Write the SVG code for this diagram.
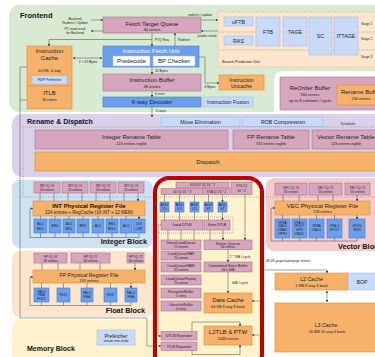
<svg xmlns="http://www.w3.org/2000/svg" width="375" height="357" viewBox="0 0 375 357">
<defs>
<style>
.t{font-family:"Liberation Sans",Arial,sans-serif;fill:#222;text-anchor:middle}
.h{font-size:6px}
.m{font-size:5.3px}
.s{font-size:3.8px}
.xs{font-size:3.3px}
.b{font-weight:bold;fill:#111}
.l{text-anchor:start}
.e{text-anchor:end}
.w{fill:#fff}
.pu{fill:#d5a6bd;stroke:#a87095;stroke-width:0.6}
.or{fill:#f6b26b;stroke:#e08a30;stroke-width:0.6}
.bl{fill:#6d9eeb;stroke:#3c78d8;stroke-width:0.6}
.lb{fill:#c9daf8;stroke:#9fbbe8;stroke-width:0.6}
.wh{fill:#fff;stroke:#9fbbe8;stroke-width:0.5}
.c{fill:none;stroke:#444;stroke-width:0.5}
.ca{fill:none;stroke:#444;stroke-width:0.5;marker-end:url(#a)}
.cb{fill:none;stroke:#444;stroke-width:0.5;marker-end:url(#a);marker-start:url(#a)}
.dt{fill:none;stroke:#777;stroke-width:0.5;stroke-dasharray:1 1}
</style>
<marker id="a" viewBox="0 0 6 6" refX="5.5" refY="3" markerWidth="2.6" markerHeight="2.6" orient="auto-start-reverse" markerUnits="userSpaceOnUse"><path d="M0,0L6,3L0,6z" fill="#333"/></marker>
</defs>

<g id="regions">
<rect x="9" y="5" width="380" height="107" rx="10" fill="#d9ead3"/>
<rect x="274" y="71" width="110" height="46" rx="8" fill="#fff"/>
<rect x="12" y="114" width="375" height="63" rx="10" fill="#d9d2e9"/>
<rect x="12" y="180" width="141" height="68" rx="8" fill="#cfe2f3"/>
<rect x="12" y="251" width="141" height="66" rx="8" fill="#fce5cd"/>
<rect x="12" y="320" width="150" height="45" rx="8" fill="#fff2cc"/>
<rect x="266" y="178" width="115" height="73" rx="8" fill="#f4cccc"/>
<rect x="155" y="178" width="107" height="190" rx="14" fill="#fff2cc"/>
<rect x="218" y="12" width="170" height="55" rx="2" fill="#fce5cd" stroke="#f6b26b" stroke-width="0.6" stroke-dasharray="2 1"/>
<path d="M219 32H375M219 50H375" stroke="#777" stroke-width="0.5" stroke-dasharray="1 1" fill="none"/>
<text class="t b l" style="font-size:7.5px" x="20" y="17.5">Frontend</text>
<text class="t b l" style="font-size:7px" x="27" y="123.5">Rename &amp; Dispatch</text>
<text class="t b e" style="font-size:7.3px" x="147" y="243.5">Integer Block</text>
<text class="t b e" style="font-size:7.3px" x="145" y="313">Float Block</text>
<text class="t b l" style="font-size:7px" x="27" y="350.5">Memory Block</text>
<text class="t b l" style="font-size:7.3px" x="338" y="249">Vector Block</text>
<text class="t s l" x="222" y="63">Branch Prediction Unit</text>
<text class="t xs" x="348" y="124.5">Scheduler</text>
<text class="t xs l" x="361" y="25">Stage 1</text>
<text class="t xs l" x="361" y="40">Stage 2</text>
<text class="t xs l" x="361" y="58">Stage 3</text>
<text class="t xs l" x="266" y="262">48 4K-page/superpage entries</text>
</g>

<g id="ftq"><rect class="pu" x="103" y="17" width="98" height="16"/><text class="t h" x="152" y="25.5">Fetch Target Queue</text><text class="t s" x="152" y="31">64 entries</text></g>
<g id="icache"><rect class="or" x="27" y="46" width="45" height="40"/><text class="t h" x="49.5" y="53">Instruction</text><text class="t h" x="49.5" y="59.5">Cache</text><text class="t s" x="49.5" y="72">64 KB, 4 way</text><rect class="lb" x="32" y="75.5" width="35" height="8.5"/><text class="t xs" x="49.5" y="81">FDIP Prefetcher</text></g>
<g id="itlb"><rect class="or" x="27" y="86" width="45" height="23"/><text class="t h" x="49.5" y="95">ITLB</text><text class="t xs" x="49.5" y="101">48 entries</text></g>
<g id="ifu"><rect class="bl" x="103" y="46" width="96" height="21"/><text class="t h w" x="151" y="53">Instruction Fetch Unit</text><rect class="wh" x="113" y="56" width="37" height="10"/><text class="t h" x="131.5" y="63">Predecode</text><rect class="wh" x="153" y="56" width="42" height="10"/><text class="t h" x="174" y="63">BP Checker</text></g>
<g id="ibuf"><rect class="pu" x="103" y="74" width="98" height="17"/><text class="t h" x="152" y="82">Instruction Buffer</text><text class="t s" x="152" y="88">48 entries</text></g>
<g id="decoder"><rect class="bl" x="103" y="97" width="98" height="10"/><text class="t h" x="152" y="104.2">6-way Decoder</text></g>
<g id="fusion"><rect class="lb" x="203" y="97" width="50" height="10"/><text class="t m" x="228" y="104">Instruction Fusion</text></g>
<g id="uncache"><rect class="or" x="219" y="75" width="45" height="15"/><text class="t m" x="241.5" y="81.5">Instruction</text><text class="t m" x="241.5" y="88">Uncache</text></g>
<g id="uftb"><rect class="lb" x="224" y="17" width="29" height="9"/><text class="t m" x="238.5" y="23.5">uFTB</text></g>
<g id="ras"><rect class="lb" x="224" y="36" width="29" height="9"/><text class="t m" x="238.5" y="42.5">RAS</text></g>
<g id="ftb"><rect class="lb" x="256" y="17" width="24" height="29"/><text class="t m" x="268" y="33.5">FTB</text></g>
<g id="tage"><rect class="lb" x="283" y="17" width="24" height="29"/><text class="t m" x="295" y="33.5">TAGE</text></g>
<g id="sc"><rect class="lb" x="309" y="17" width="23" height="38"/><text class="t m" x="320.5" y="38">SC</text></g>
<g id="ittage"><rect class="lb" x="334" y="17" width="24" height="38"/><text class="t m" x="346" y="38">ITTAGE</text></g>
<g id="rob"><rect class="pu" x="280" y="77" width="100" height="33"/><text class="t h" x="310" y="89.5">ReOrder Buffer</text><text class="t s" x="310" y="95.5">160 entries</text><text class="t" style="font-size:4.2px" x="310" y="101.5">up to 8 commits / cycle</text></g>
<g id="renamebuf"><rect class="or" x="337" y="85" width="45" height="20"/><text class="t h" x="361" y="93.5">Rename Buffer</text><text class="t s" x="361" y="99.5">256 entries</text></g>

<g id="moveelim"><rect class="lb" x="161" y="117" width="79" height="9.5"/><text class="t m" x="200.5" y="124">Move Elimination</text></g>
<g id="robcomp"><rect class="lb" x="243" y="117" width="80" height="9.5"/><text class="t m" x="283" y="124">ROB Compression</text></g>
<g id="intrename"><rect class="pu" x="35" y="130" width="193" height="19"/><text class="t h" x="131.5" y="139">Integer Rename Table</text><text class="t s" x="131.5" y="145">224 entries regfile</text></g>
<g id="fprename"><rect class="pu" x="233" y="130" width="76" height="19"/><text class="t h" x="271" y="139">FP Rename Table</text><text class="t s" x="271" y="145">192 entries regfile</text></g>
<g id="vecrename"><rect class="pu" x="312" y="130" width="70" height="19"/><text class="t h" x="346" y="139">Vector Rename Table</text><text class="t s" x="346" y="145">128 entries regfile</text></g>
<g id="dispatch"><rect class="or" x="35" y="152" width="347" height="19"/><text class="t h" x="208" y="164">Dispatch</text></g>

<g id="intiq0"><rect class="pu" x="34" y="182" width="26" height="11"/><text class="t xs" x="47" y="187">INT IQ #0</text><text class="t xs" x="47" y="191.3">24 entries</text></g>
<g id="intiq1"><rect class="pu" x="62" y="182" width="26" height="11"/><text class="t xs" x="75" y="187">INT IQ #1</text><text class="t xs" x="75" y="191.3">24 entries</text></g>
<g id="intiq2"><rect class="pu" x="90" y="182" width="26" height="11"/><text class="t xs" x="103" y="187">INT IQ #2</text><text class="t xs" x="103" y="191.3">24 entries</text></g>
<g id="intiq3"><rect class="pu" x="118" y="182" width="26" height="11"/><text class="t xs" x="131" y="187">INT IQ #3</text><text class="t xs" x="131" y="191.3">24 entries</text></g>
<g id="intprf"><rect class="or" x="33" y="201" width="112" height="15"/><text class="t h b" x="89" y="207.5">INT Physical Register File</text><text class="t" style="font-size:4.5px" x="89" y="213.5">224 entries + RegCache (16 INT + 12 MEM)</text></g>
<g id="intfu" class="t xs">
<rect class="bl" x="34" y="219" width="13" height="14"/><text x="40.5" y="225">ALU</text><text x="40.5" y="229.5">MUL</text>
<rect class="bl" x="49" y="219" width="12" height="14"/><text x="55" y="227.3">BRU</text>
<rect class="bl" x="63" y="219" width="12" height="14"/><text x="69" y="225">ALU</text><text x="69" y="229.5">MUL</text>
<rect class="bl" x="77" y="219" width="12" height="14"/><text x="83" y="227.3">BRU</text>
<rect class="bl" x="92" y="219" width="12" height="14"/><text x="98" y="227.3">ALU</text>
<rect class="bl" x="106" y="219" width="12" height="14"/><text x="112" y="225">BRU</text><text x="112" y="229.5">MISC</text>
<rect class="bl" x="120" y="219" width="12" height="14"/><text x="126" y="227.3">ALU</text>
<rect class="bl" x="133" y="219" width="12" height="14"/><text x="139" y="225">DIV</text><text x="139" y="229.5">CSR</text>
</g>

<g id="fpiq0"><rect class="pu" x="34" y="253" width="33" height="10"/><text class="t xs" x="50.5" y="257.5">FP IQ #0</text><text class="t xs" x="50.5" y="261.5">18 entries</text></g>
<g id="fpiq1"><rect class="pu" x="71" y="253" width="39" height="10"/><text class="t xs" x="90.5" y="257.5">FP IQ #1</text><text class="t xs" x="90.5" y="261.5">18 entries</text></g>
<g id="fpiq2"><rect class="pu" x="127" y="253" width="17" height="10"/><text class="t xs" x="135.5" y="257.5">FP IQ #2</text><text class="t xs" x="135.5" y="261.5">18 entries</text></g>
<g id="fpprf"><rect class="or" x="33" y="270" width="112" height="13"/><text class="t m" x="89" y="276.5">FP Physical Register File</text><text class="t s" x="89" y="281.5">192 entries</text></g>
<g id="fpfu" class="t xs">
<rect class="bl" x="34" y="288" width="15" height="14"/><text x="41.5" y="292.5">FALU</text><text x="41.5" y="296">FMA</text><text x="41.5" y="299.5">FCVT</text>
<rect class="bl" x="57" y="288" width="13" height="14"/><text x="63.5" y="296.2">FDIV</text>
<rect class="bl" x="81" y="288" width="12" height="14"/><text x="87" y="294">FALU</text><text x="87" y="298">FMA</text>
<rect class="bl" x="104" y="288" width="13" height="14"/><text x="110.5" y="296.2">FDIV</text>
<rect class="bl" x="125" y="288" width="12" height="14"/><text x="131" y="294">FALU</text><text x="131" y="298">FMA</text>
</g>

<g id="prefetcher"><rect class="lb" x="97" y="330" width="38" height="15"/><text class="t" style="font-size:5px" x="116" y="337.5">Prefetcher</text><text class="t" style="font-size:3.2px" x="116" y="342">stream sms stride</text></g>

<g id="veciq0"><rect class="pu" x="275" y="183" width="32" height="12"/><text class="t xs" x="291" y="188.5">VEC IQ #0</text><text class="t xs" x="291" y="192.7">16 entries</text></g>
<g id="veciq1"><rect class="pu" x="309" y="183" width="33" height="12"/><text class="t xs" x="325.5" y="188.5">VEC IQ #1</text><text class="t xs" x="325.5" y="192.7">16 entries</text></g>
<g id="veciq2"><rect class="pu" x="345" y="183" width="25" height="12"/><text class="t xs" x="357.5" y="188.5">VEC IQ #2</text><text class="t xs" x="357.5" y="192.7">16 entries</text></g>
<g id="vecprf"><rect class="or" x="275" y="201" width="95" height="14"/><text class="t h" x="322.5" y="207.5">VEC Physical Register File</text><text class="t s" x="322.5" y="213">128 entries</text></g>
<g id="vecfu" class="t" style="font-size:3.1px">
<rect class="bl" x="275" y="219" width="15" height="19"/><text x="282.5" y="223.5">VFMA</text><text x="282.5" y="227.3">VIALU</text><text x="282.5" y="231.1">VIMAC</text><text x="282.5" y="234.9">VPPU</text>
<rect class="bl" x="292" y="219" width="15" height="19"/><text x="299.5" y="223.5">VFALU</text><text x="299.5" y="227.3">VFCVT</text><text x="299.5" y="231.1">VIPU</text><text x="299.5" y="234.9">VMISC</text>
<rect class="bl" x="309" y="219" width="15" height="19"/><text x="316.5" y="226.5">VFMA</text><text x="316.5" y="230.5">VIALU</text>
<rect class="bl" x="327" y="219" width="15" height="19"/><text x="334.5" y="226.5">VFALU</text><text x="334.5" y="230.5">VFCVT</text>
<rect class="bl" x="349" y="219" width="16" height="19"/><text x="357" y="226.5">VFDIV</text><text x="357" y="230.5">VIDIV</text>
</g>

<g id="l2"><rect class="or" x="275" y="273" width="73" height="17"/><text class="t m" x="311.5" y="281">L2 Cache</text><text class="t s" x="311.5" y="287">1 MB 8 way 4 bank</text></g>
<g id="bop"><rect class="lb" x="348" y="273" width="32" height="17"/><text class="t" style="font-size:5px" x="362" y="283.5">BOP</text></g>
<g id="l3"><rect class="or" x="275" y="303" width="105" height="49"/><text class="t m" x="326" y="327">L3 Cache</text><text class="t s" x="327" y="333">16 MB 16 way 4 bank</text></g>

<g id="vldstiq"><rect class="pu" x="176" y="182" width="53" height="6"/><text class="t xs" x="202.5" y="186.4">VLD/ST IQ 16 * 2</text></g>
<g id="ldiq"><rect class="pu" x="161" y="188.5" width="42" height="6"/><text class="t xs" x="182" y="192.9">LD IQ 16 * 3</text></g>
<g id="staiq"><rect class="pu" x="203" y="188.5" width="27" height="6"/><text class="t xs" x="216.5" y="192.9">STA IQ 16 * 2</text></g>
<g id="stdiq"><rect class="pu" x="231" y="182" width="21" height="12.5"/><text class="t xs" x="241.5" y="187.3">STD IQ</text><text class="t xs" x="241.5" y="191.6">16 * 2</text></g>
<g id="agu" class="t" style="font-size:3.5px">
<rect class="bl" x="160" y="202" width="9" height="10"/><text x="164.5" y="206.3">AGU</text><text x="164.5" y="210.3">LD</text>
<rect class="bl" x="175" y="202" width="9" height="10"/><text x="179.5" y="206.3">AGU</text><text x="179.5" y="210.3">LD</text>
<rect class="bl" x="190" y="202" width="9" height="10"/><text x="194.5" y="206.3">AGU</text><text x="194.5" y="210.3">LD</text>
<rect class="bl" x="204" y="202" width="9" height="10"/><text x="208.5" y="206.3">AGU</text><text x="208.5" y="210.3">ST</text>
<rect class="bl" x="218" y="202" width="9" height="10"/><text x="222.5" y="206.3">AGU</text><text x="222.5" y="210.3">ST</text>
</g>
<g id="loaddtlb"><rect class="pu" x="161" y="220" width="42" height="10"/><text class="t s" x="182" y="226.3">Load DTLB</text></g>
<g id="storedtlb"><rect class="pu" x="204" y="220" width="26" height="10"/><text class="t" style="font-size:3.5px" x="217" y="226.2">Store DTLB</text></g>
<g id="vlq"><rect class="pu" x="161" y="240" width="40" height="9.5"/><text class="t" style="font-size:3.6px" x="181" y="244.3">VirtualLoadQueue</text><text class="t xs" x="181" y="248.3">72 entries</text></g>
<g id="lqrar"><rect class="pu" x="161" y="251" width="40" height="9"/><text class="t" style="font-size:3.6px" x="181" y="255.1">LoadQueueRAR</text><text class="t xs" x="181" y="259">72 entries</text></g>
<g id="lqraw"><rect class="pu" x="161" y="262" width="40" height="10"/><text class="t" style="font-size:3.6px" x="181" y="266.5">LoadQueueRAW</text><text class="t xs" x="181" y="270.6">32 entries</text></g>
<g id="lqreplay"><rect class="pu" x="161" y="275" width="40" height="10"/><text class="t" style="font-size:3.6px" x="181" y="279.5">LoadQueueReplay</text><text class="t xs" x="181" y="283.6">72 entries</text></g>
<g id="excbuf"><rect class="pu" x="161" y="288" width="40" height="10"/><text class="t" style="font-size:3.6px" x="181" y="292.5">ExceptionBuffer</text><text class="t xs" x="181" y="296.6">1 entry</text></g>
<g id="uncbuf"><rect class="pu" x="161" y="301" width="40" height="10"/><text class="t" style="font-size:3.6px" x="181" y="305.5">UncacheBuffer</text><text class="t xs" x="181" y="309.6">4 entry</text></g>
<g id="sq"><rect class="pu" x="204" y="240" width="48" height="9.5"/><text class="t" style="font-size:4.3px" x="228" y="244.5">Store Queue</text><text class="t xs" x="228" y="248.4">56 entries</text></g>
<g id="csb"><rect class="pu" x="204" y="262" width="48" height="10"/><text class="t s" x="228" y="266.5">Committed Store Buffer</text><text class="t xs" x="228" y="270.6">16 x 64B</text></g>
<g id="dcache"><rect class="or" x="204" y="293" width="48" height="20"/><text class="t h" x="228" y="302">Data Cache</text><text class="t s" x="228" y="308">64 KB 8 way 8 bank</text></g>
<g id="l2tlb"><rect class="or" x="204" y="326" width="48" height="19"/><text class="t h" x="228" y="334">L2TLB &amp; PTW</text><text class="t s" x="228" y="340">2048 entries</text></g>
<g id="dtlbrep"><rect class="pu" x="161" y="331.5" width="36" height="8.5"/><text class="t s" x="179" y="337.1">DTLB Repeater</text></g>
<g id="itlbrep"><rect class="pu" x="161" y="342" width="36" height="8.5"/><text class="t s" x="179" y="347.6">ITLB Repeater</text></g>

<g id="connectors">
<path class="ca" d="M91 20H103"/>
<path class="ca" d="M103 31H91"/>
<path class="ca" d="M152 33V46"/>
<path class="ca" d="M152 39.5H49V46"/>
<path class="ca" d="M175 46V33"/>
<path class="ca" d="M201 20H218"/>
<path class="ca" d="M218 31H201"/>
<path class="cb" d="M73 58H102"/>
<path class="ca" d="M152 67V74"/>
<path class="ca" d="M152 91V97"/>
<path class="ca" d="M152 107V117"/>
<path class="ca" d="M199 57H205V83H219"/>
<path class="c" d="M27 67H20V318H147V346"/>
<path class="ca" d="M147 346H161"/>
<path class="c" d="M27 100H20"/>
<path class="ca" d="M40 193V201M54 193V201M68 193V201M82 193V201M96 193V201M110 193V201M124 193V201M138 193V201"/>
<path class="ca" d="M40.5 216V219M55 216V219M69 216V219M83 216V219M98 216V219M112 216V219M126 216V219M139 216V219"/>
<path class="c" d="M40.5 233V237.5M55 233V237.5M69 233V237.5M83 233V237.5M98 233V237.5M112 233V237.5M126 233V237.5M139 233V237.5M30 237.5H139"/>
<path class="ca" d="M30 237.5V208.5H33"/>
<path class="ca" d="M42 263V270M58 263V270M80 263V270M100 263V270M135 263V270"/>
<path class="ca" d="M41.5 283V288M63.5 283V288M87 283V288M110.5 283V288M131 283V288"/>
<path class="c" d="M41.5 302V305.5M63.5 302V305.5M87 302V305.5M110.5 302V305.5M131 302V305.5M30 305.5H131"/>
<path class="ca" d="M30 305.5V277H33"/>
<path class="ca" d="M283 195V201M299 195V201M318 195V201M333 195V201M357 195V201"/>
<path class="ca" d="M282.5 215V219M299.5 215V219M316.5 215V219M334.5 215V219M357 215V219"/>
<path class="c" d="M282.5 238V241M299.5 238V241M316.5 238V241M334.5 238V241M357 238V241M271 241H357"/>
<path class="ca" d="M271 241V208H275"/>
<path class="ca" d="M164.5 194.5V202M179.5 194.5V202M194.5 194.5V202M208.5 194.5V202M222.5 194.5V202"/>
<path class="ca" d="M164.5 212V220M179.5 212V220M194.5 212V220M208.5 212V220M222.5 212V220"/>
<path class="ca" d="M168 230V240M181 230V240M194 230V240M210 230V240M223 230V240"/>
<path class="ca" d="M245 194.5V240"/>
<path class="ca" d="M228 249.5V262"/>
<path class="ca" d="M228 272V293"/>
<path class="ca" d="M161 225H158V336H161"/>
<path class="ca" d="M192 331.5V322H240V326"/>
<path class="ca" d="M192 350.5V354.5H240V345"/>
<path class="c" d="M262 270V335"/>
<path class="ca" d="M262 270H327V273"/>
<path class="ca" d="M262 301H252"/>
<path class="ca" d="M262 335H252"/>
<path class="cb" d="M327 291V302"/>
<rect class="dt" x="23" y="127" width="360" height="70"/>
<rect class="dt" x="158" y="217" width="75" height="16"/>
<g class="t xs">
<text x="75" y="19.5">Backend</text>
<text x="75" y="23.5">Redirect / Update</text>
<text x="75" y="29.5">PC read result</text>
<text x="75" y="33.5">for Backend</text>
<text x="200" y="15.5">redirect / update</text>
<text x="207" y="37">predict result</text>
<text class="l" x="155" y="41">FTQ Req.</text>
<text class="l" x="178" y="41">Redirect</text>
<text x="88" y="62.5">2 × 32 Bytes</text>
<text class="l" x="155" y="72">32 Bytes</text>
<text class="l" x="155" y="95">6 insts</text>
<text class="l" x="156" y="112">6 uops</text>
<text x="210" y="88">8 Bytes</text>
<text x="240" y="257.5">2 * 16B / cycle</text>
<text x="240" y="284">64B / cycle</text>
</g>
</g>

<g id="memunit-border">
<rect x="155" y="178" width="107" height="190" rx="14" fill="none" stroke="#c00000" stroke-width="4"/>
</g>
</svg>
